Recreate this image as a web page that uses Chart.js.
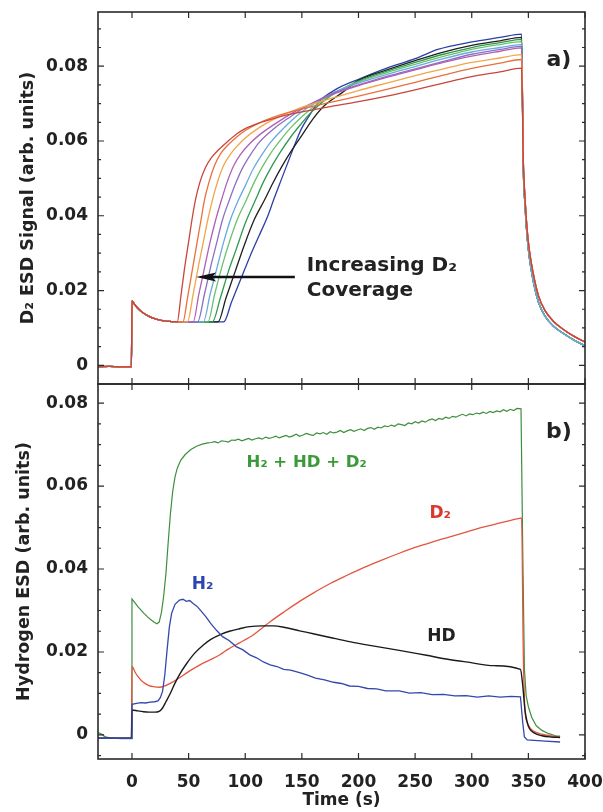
<!DOCTYPE html>
<html><head><meta charset="utf-8">
<script src="https://cdn.jsdelivr.net/npm/chart.js@4.4.0/dist/chart.umd.min.js"></script>
<style>
html,body{margin:0;padding:0;background:#fff;}
#wrap{position:relative;width:603px;height:812px;overflow:hidden;background:#fff;}
#ca{position:absolute;left:0;top:0;width:603px;height:400px;}
#cb{position:absolute;left:0;top:372px;width:603px;height:440px;}
</style></head><body>
<div id="wrap"><canvas id="ca" width="603" height="400"></canvas><canvas id="cb" width="603" height="440"></canvas></div>
<script>
// ---------- axis ticks ----------
const timeTicks = [0,50,100,150,200,250,300,350,400];
const topYTicks = [0,0.02,0.04,0.06,0.08];
const bottomYTicks = [0,0.02,0.04,0.06,0.08];

// ---------- panel a) : D2 ESD signal, ten coverages ----------
const aBefore = [[-30,-0.0004],[-20,-0.0003],[-10,-0.0004],[-0.5,-0.0004],[0,0.0172],[3,0.016],[6,0.015],[10,0.014],[15,0.0131],[20,0.0125],[25,0.0121],[30,0.0118],[35,0.0117],[40,0.0116]];
const tailA = [[345.5,0.055],[347,0.045],[349,0.036],[351,0.0305],[354,0.025],[359,0.0185],[365,0.0145],[372,0.0118],[380,0.0098],[390,0.0078],[400,0.0062]];
const tailB = [[345.5,0.053],[347,0.043],[349,0.034],[351,0.0285],[354,0.023],[359,0.0168],[365,0.013],[372,0.0105],[380,0.0087],[390,0.0068],[400,0.0052]];

const cov0 = [[43,0.018],[46,0.025],[50,0.033],[53,0.039],[56,0.0442],[60,0.049],[65,0.053],[70,0.0555],[76,0.0575],[85,0.060],[93,0.062],[100,0.0633],[112,0.0648],[125,0.066],[140,0.0672],[150,0.0678],[175,0.0692],[200,0.0705],[225,0.072],[250,0.0737],[275,0.0755],[300,0.0772],[325,0.0785],[344,0.0795]];
const cov1 = [[45,0.0116],[49,0.018],[53,0.025],[57,0.032],[61,0.039],[64,0.0442],[68,0.049],[73,0.0535],[78,0.0565],[85,0.059],[93,0.0612],[100,0.0628],[112,0.0648],[125,0.0664],[140,0.0678],[150,0.0686],[175,0.0703],[200,0.072],[225,0.0738],[250,0.0757],[275,0.0776],[300,0.0794],[325,0.0808],[344,0.0818]];
const cov2 = [[49,0.0116],[54,0.019],[59,0.027],[63,0.033],[67,0.039],[71,0.0442],[76,0.0495],[81,0.0535],[87,0.0565],[94,0.059],[100,0.0608],[112,0.0635],[125,0.0658],[140,0.0678],[150,0.069],[175,0.0713],[200,0.0735],[225,0.0755],[250,0.0775],[275,0.0793],[300,0.081],[325,0.0822],[344,0.0831]];
const cov3 = [[54,0.0116],[59,0.019],[64,0.026],[69,0.033],[74,0.039],[79,0.0442],[84,0.049],[90,0.0535],[96,0.0565],[103,0.059],[112,0.0615],[125,0.0643],[140,0.0672],[150,0.0688],[175,0.0722],[200,0.0748],[225,0.077],[250,0.079],[275,0.081],[300,0.0827],[325,0.084],[344,0.0849]];
const cov4 = [[58,0.0116],[64,0.019],[70,0.027],[75,0.033],[80,0.039],[86,0.0442],[92,0.049],[98,0.053],[105,0.0565],[112,0.0595],[125,0.0632],[140,0.0665],[150,0.0685],[175,0.0725],[200,0.075],[225,0.0773],[250,0.0793],[275,0.0813],[300,0.0832],[325,0.0845],[344,0.0853]];
const cov5 = [[63,0.0116],[69,0.019],[75,0.026],[81,0.033],[87,0.039],[94,0.0442],[100,0.048],[107,0.0525],[114,0.056],[122,0.0595],[130,0.0622],[140,0.0652],[150,0.0678],[160,0.0698],[175,0.0725],[200,0.0755],[225,0.0778],[250,0.0799],[275,0.082],[300,0.0838],[325,0.085],[344,0.0858]];
const cov6 = [[67,0.0116],[73,0.019],[80,0.027],[86,0.033],[93,0.039],[101,0.0442],[108,0.049],[115,0.053],[122,0.0565],[130,0.0598],[140,0.0635],[150,0.0665],[160,0.069],[175,0.0722],[200,0.0758],[225,0.0783],[250,0.0805],[275,0.0826],[300,0.0845],[325,0.0858],[344,0.0866]];
const cov7 = [[71,0.0116],[78,0.018],[85,0.025],[92,0.031],[100,0.038],[109,0.0442],[116,0.049],[123,0.053],[131,0.057],[140,0.061],[150,0.0648],[160,0.0682],[175,0.072],[200,0.076],[225,0.0787],[250,0.081],[275,0.0832],[300,0.085],[325,0.0863],[344,0.0872]];
const cov8 = [[76,0.0116],[83,0.018],[91,0.025],[99,0.032],[108,0.039],[117,0.0442],[124,0.0485],[132,0.053],[140,0.057],[150,0.0615],[160,0.066],[170,0.0695],[185,0.0728],[200,0.0762],[225,0.079],[250,0.0815],[275,0.0838],[300,0.0856],[325,0.0868],[344,0.0877]];
const cov9 = [[81,0.0116],[88,0.017],[96,0.023],[104,0.029],[112,0.0345],[120,0.040],[125,0.0442],[131,0.049],[138,0.0545],[145,0.060],[150,0.0635],[157,0.067],[165,0.0705],[180,0.0738],[200,0.0765],[225,0.0795],[250,0.082],[270,0.0845],[300,0.0865],[325,0.0877],[344,0.0886]];

// ---------- panel b) : hydrogen ESD ----------
const sumH = [[-30,0.0006],[-27,0.0002],[-24,-0.0004],[-20,-0.0007],[-15,-0.0008],[-10,-0.0009],[-5,-0.0009],[-0.5,-0.0009],[0,0.0328],[2,0.0321],[5,0.031],[8,0.0301],[11,0.0292],[14,0.0284],[17,0.0277],[20,0.0271],[22,0.0268],[24,0.0272],[26,0.0295],[28,0.0335],[30,0.039],[32,0.0465],[34,0.0535],[36,0.0588],[38,0.0622],[40,0.0643],[43,0.0662],[47,0.0676],[52,0.0688],[57,0.0696],[62,0.0701],[67,0.0704],
  [70,0.0705],[73,0.0707],[76,0.0704],[79,0.0709],[82,0.0708],[85,0.0706],[88,0.0711],[91,0.071],[94,0.0713],[97,0.0709],[100,0.0712],[103,0.0715],[106,0.0711],[109,0.0714],[112,0.0716],[115,0.0713],[118,0.0718],[121,0.0715],[124,0.0717],[127,0.072],[130,0.0716],[133,0.0719],[136,0.0722],[139,0.0718],[142,0.0721],[145,0.0725],[148,0.072],[151,0.0723],[154,0.0727],[157,0.0724],[160,0.0722],[163,0.0728],[166,0.0726],[169,0.0729],[172,0.0725],[175,0.0731],[178,0.0728],[181,0.073],[184,0.0734],[187,0.0729],[190,0.0733],[193,0.0736],[196,0.0732],[199,0.0735],[202,0.0738],[205,0.0734],[208,0.0739],[211,0.0741],[214,0.0737],[217,0.0742],[220,0.074],[223,0.0745],[226,0.0743],[229,0.0747],[232,0.0744],[235,0.075],[238,0.0748],[241,0.0746],[244,0.0752],[247,0.075],[250,0.0755],[253,0.0752],[256,0.0757],[259,0.0754],[262,0.0759],[265,0.0762],[268,0.0758],[271,0.0763],[274,0.0761],[277,0.0766],[280,0.0763],[283,0.0768],[286,0.0766],[289,0.077],[292,0.0773],[295,0.0769],[298,0.0774],[301,0.0772],[304,0.0776],[307,0.0774],[310,0.0778],[313,0.0775],[316,0.078],[319,0.0777],[322,0.0781],[325,0.0779],[328,0.0784],[331,0.078],[334,0.0785],[337,0.0782],[340,0.0787],[343.5,0.0786],
  [345,0.045],[346.5,0.016],[348,0.0095],[350,0.0068],[353,0.0042],[357,0.0022],[362,0.0011],[368,0.0003],[374,-0.0002],[378,-0.0003]];
const d2 = [[-30,-0.0008],[-0.5,-0.0008],[0,0.0165],[3,0.015],[6,0.0138],[10,0.0127],[15,0.0119],[20,0.0116],[24,0.0115],[28,0.0117],[35,0.0126],[42,0.0138],[48,0.0149],[55,0.0161],[62,0.0172],[70,0.0182],[78,0.0194],[85,0.0207],[95,0.0222],[107,0.0241],[115,0.0258],[122,0.0273],[135,0.0298],[148,0.0322],[160,0.0342],[175,0.0365],[190,0.0385],[205,0.0404],[220,0.0421],[236,0.0438],[250,0.0452],[265,0.0465],[280,0.0477],[295,0.0489],[310,0.0501],[325,0.0511],[342,0.0522],[344,0.0523],[345.5,0.02],[347,0.006],[349,0.003],[352,0.0015],[358,0.0005],[365,0.0],[378,-0.0005]];
const hd = [[-30,-0.0008],[-0.5,-0.0008],[0,0.006],[5,0.0058],[10,0.0056],[15,0.0055],[20,0.0055],[24,0.0057],[27,0.0065],[30,0.008],[34,0.0101],[38,0.0125],[43,0.015],[48,0.0171],[55,0.0196],[63,0.0217],[70,0.0231],[78,0.0242],[86,0.025],[95,0.0256],[104,0.0261],[115,0.0263],[125,0.0263],[135,0.0259],[148,0.0251],[160,0.0244],[175,0.0235],[192,0.0225],[210,0.0216],[236,0.0204],[260,0.0192],[280,0.0182],[295,0.0176],[320,0.0167],[343,0.0158],[345,0.012],[347,0.006],[349,0.003],[351,0.0015],[355,0.0005],[362,-0.0002],[370,-0.0005],[378,-0.0006]];
const h2 = [[-30,-0.0008],[-0.5,-0.0008],[0,0.0074],[4,0.0076],[8,0.0078],[12,0.0077],[16,0.0079],[20,0.008],[23,0.0082],[25,0.009],[27,0.0105],[29,0.0145],[31,0.0205],[33,0.026],[35,0.0293],[38,0.0315],[42,0.0325],[45,0.0327],[48,0.0322],[51,0.0324],[54,0.0317],[57,0.0311],[60,0.0302],[65,0.0286],[70,0.0267],[75,0.0251],[80,0.0237],[86,0.0227],[92,0.0213],[98,0.0205],[104,0.0193],[110,0.0186],[116,0.0176],[122,0.0169],[128,0.0165],[134,0.0158],[140,0.0156],[148,0.015],[155,0.0144],[162,0.0137],[170,0.0133],[178,0.0127],[185,0.0124],[192,0.0118],[200,0.0117],[208,0.0112],[216,0.0111],[224,0.0106],[236,0.0106],[245,0.0101],[255,0.0102],[265,0.0097],[275,0.0098],[285,0.0094],[295,0.0095],[305,0.0091],[315,0.0094],[325,0.0091],[335,0.0093],[343,0.0092],[345,0.003],[346.5,-0.0005],[349,-0.0012],[355,-0.0013],[365,-0.0015],[378,-0.0017]];

// ---------- styling ----------
const FONT = "'DejaVu Sans', 'Liberation Sans', sans-serif";
const TXT = '#222';
const covColors = ['#c8453c','#e8703a','#f2a54a','#b05fb5','#8b6fc4','#6aa8e0','#6cc26c','#2e9a4e','#1f1f1f','#2b3fa5'];
const covData = [cov0,cov1,cov2,cov3,cov4,cov5,cov6,cov7,cov8,cov9];

const topLabels = [
  {text:'a)', t:366, v:0.0800, color:TXT, size:22},
  {text:'Increasing D\u2082', t:154.4, v:0.0253, color:TXT, size:20},
  {text:'Coverage', t:154.4, v:0.0185, color:TXT, size:20}
];
const topArrow = {from:[143.8,0.0236], to:[56.6,0.0236]};
const bottomLabels = [
  {text:'b)', t:365.6, v:0.0716, color:TXT, size:22},
  {text:'H\u2082 + HD + D\u2082', t:101.2, v:0.0647, color:'#3a9a3a', size:16.5},
  {text:'D\u2082', t:262.6, v:0.0522, color:'#d83a2c', size:17},
  {text:'H\u2082', t:52.8, v:0.0353, color:'#2e45b0', size:17},
  {text:'HD', t:260.8, v:0.0227, color:TXT, size:17}
];

function panelPlugin(labels, arrow){
  return {
    id:'panelDecor',
    afterDraw(chart){
      const {ctx, chartArea:a, scales:{x,y}} = chart;
      ctx.save();
      ctx.strokeStyle = '#2a2a2a';
      ctx.lineWidth = 1.6;
      ctx.strokeRect(a.left, a.top, a.right - a.left, a.bottom - a.top);
      ctx.lineWidth = 1.2;
      ctx.beginPath();
      for (const v of timeTicks){
        const px = x.getPixelForValue(v);
        ctx.moveTo(px, a.top); ctx.lineTo(px, a.top + 6);
        ctx.moveTo(px, a.bottom); ctx.lineTo(px, a.bottom - 6);
      }
      const step = 0.005;
      for (let k = Math.ceil(y.min/step - 1e-9); k*step <= y.max + 1e-12; k++){
        const v = k*step;
        const major = Math.abs(Math.round(v/0.02)*0.02 - v) < 1e-9;
        const len = major ? 6 : 3;
        const py = y.getPixelForValue(v);
        ctx.moveTo(a.left, py); ctx.lineTo(a.left + len, py);
        ctx.moveTo(a.right, py); ctx.lineTo(a.right - len, py);
      }
      ctx.stroke();
      ctx.textBaseline = 'alphabetic';
      ctx.textAlign = 'left';
      for (const L of labels){
        ctx.font = 'bold ' + L.size + 'px ' + FONT;
        ctx.fillStyle = L.color;
        ctx.fillText(L.text, x.getPixelForValue(L.t), y.getPixelForValue(L.v));
      }
      if (arrow){
        const x1 = x.getPixelForValue(arrow.from[0]), y1 = y.getPixelForValue(arrow.from[1]);
        const x2 = x.getPixelForValue(arrow.to[0]), y2 = y.getPixelForValue(arrow.to[1]);
        ctx.strokeStyle = '#111'; ctx.fillStyle = '#111';
        ctx.lineWidth = 2.4;
        ctx.beginPath(); ctx.moveTo(x1, y1); ctx.lineTo(x2 + 10, y2); ctx.stroke();
        ctx.beginPath(); ctx.moveTo(x2, y2); ctx.lineTo(x2 + 20, y2 - 4.5); ctx.lineTo(x2 + 16, y2); ctx.lineTo(x2 + 20, y2 + 4.5); ctx.closePath(); ctx.fill();
      }
      ctx.restore();
    }
  };
}

function lineDs(data, color, width, smooth){
  return {data, borderColor:color, borderWidth:width, pointRadius:0, fill:false,
          cubicInterpolationMode: smooth ? 'monotone' : 'default', tension:0};
}

const yTickFmt = v => (v === 0 ? '0' : v.toFixed(2));
const tickFont = {family:FONT, size:17, weight:'bold'};

new Chart(document.getElementById('ca'), {
  type:'line',
  data:{datasets: covData.map((c,i) => lineDs(aBefore.concat(c, i < 5 ? tailA : tailB), covColors[i], 1.3, true))},
  options:{
    responsive:false, animation:false, events:[],
    layout:{padding:{top:12, bottom:16, left:0, right:18}},
    plugins:{legend:{display:false}, tooltip:{enabled:false}},
    scales:{
      x:{type:'linear', min:-30, max:400, display:false},
      y:{type:'linear', min:-0.005, max:0.0945,
         afterBuildTicks: s => { s.ticks = topYTicks.map(v => ({value:v})); },
         afterFit: s => { s.width = 98; s.paddingTop = 0; s.paddingBottom = 0; },
         ticks:{font:tickFont, color:TXT, padding:10, callback:yTickFmt},
         grid:{display:false, drawTicks:false}, border:{display:false},
         title:{display:true, text:'D\u2082 ESD Signal (arb. units)', color:TXT, font:{family:FONT, size:17.5, weight:'bold'}, padding:{top:18, bottom:0}}}
    }
  },
  plugins:[panelPlugin(topLabels, topArrow)]
});

new Chart(document.getElementById('cb'), {
  type:'line',
  data:{datasets:[
    lineDs(h2, '#3447ad', 1.3, false),
    lineDs(hd, '#1a1a1a', 1.4, true),
    lineDs(d2, '#e2553f', 1.3, true),
    lineDs(sumH, '#3d8f3d', 1.2, false)
  ]},
  options:{
    responsive:false, animation:false, events:[],
    layout:{padding:{top:12, bottom:0, left:0, right:18}},
    plugins:{legend:{display:false}, tooltip:{enabled:false}},
    scales:{
      x:{type:'linear', min:-30, max:400,
         afterBuildTicks: s => { s.ticks = timeTicks.map(v => ({value:v})); },
         afterFit: s => { s.height = 53; s.paddingLeft = 0; s.paddingRight = 0; },
         ticks:{font:tickFont, color:TXT, padding:13, maxRotation:0, autoSkip:false},
         grid:{display:false, drawTicks:false}, border:{display:false},
         title:{display:true, text:'Time (s)', color:TXT, font:{family:FONT, size:17, weight:'bold'}, padding:{top:0, bottom:1}}},
      y:{type:'linear', min:-0.0058, max:0.0846,
         afterBuildTicks: s => { s.ticks = bottomYTicks.map(v => ({value:v})); },
         afterFit: s => { s.width = 98; s.paddingTop = 0; s.paddingBottom = 0; },
         ticks:{font:tickFont, color:TXT, padding:10, callback:yTickFmt},
         grid:{display:false, drawTicks:false}, border:{display:false},
         title:{display:true, text:'Hydrogen ESD (arb. units)', color:TXT, font:{family:FONT, size:17.5, weight:'bold'}, padding:{top:14, bottom:0}}}
    }
  },
  plugins:[panelPlugin(bottomLabels, null)]
});
</script>
</body></html>
